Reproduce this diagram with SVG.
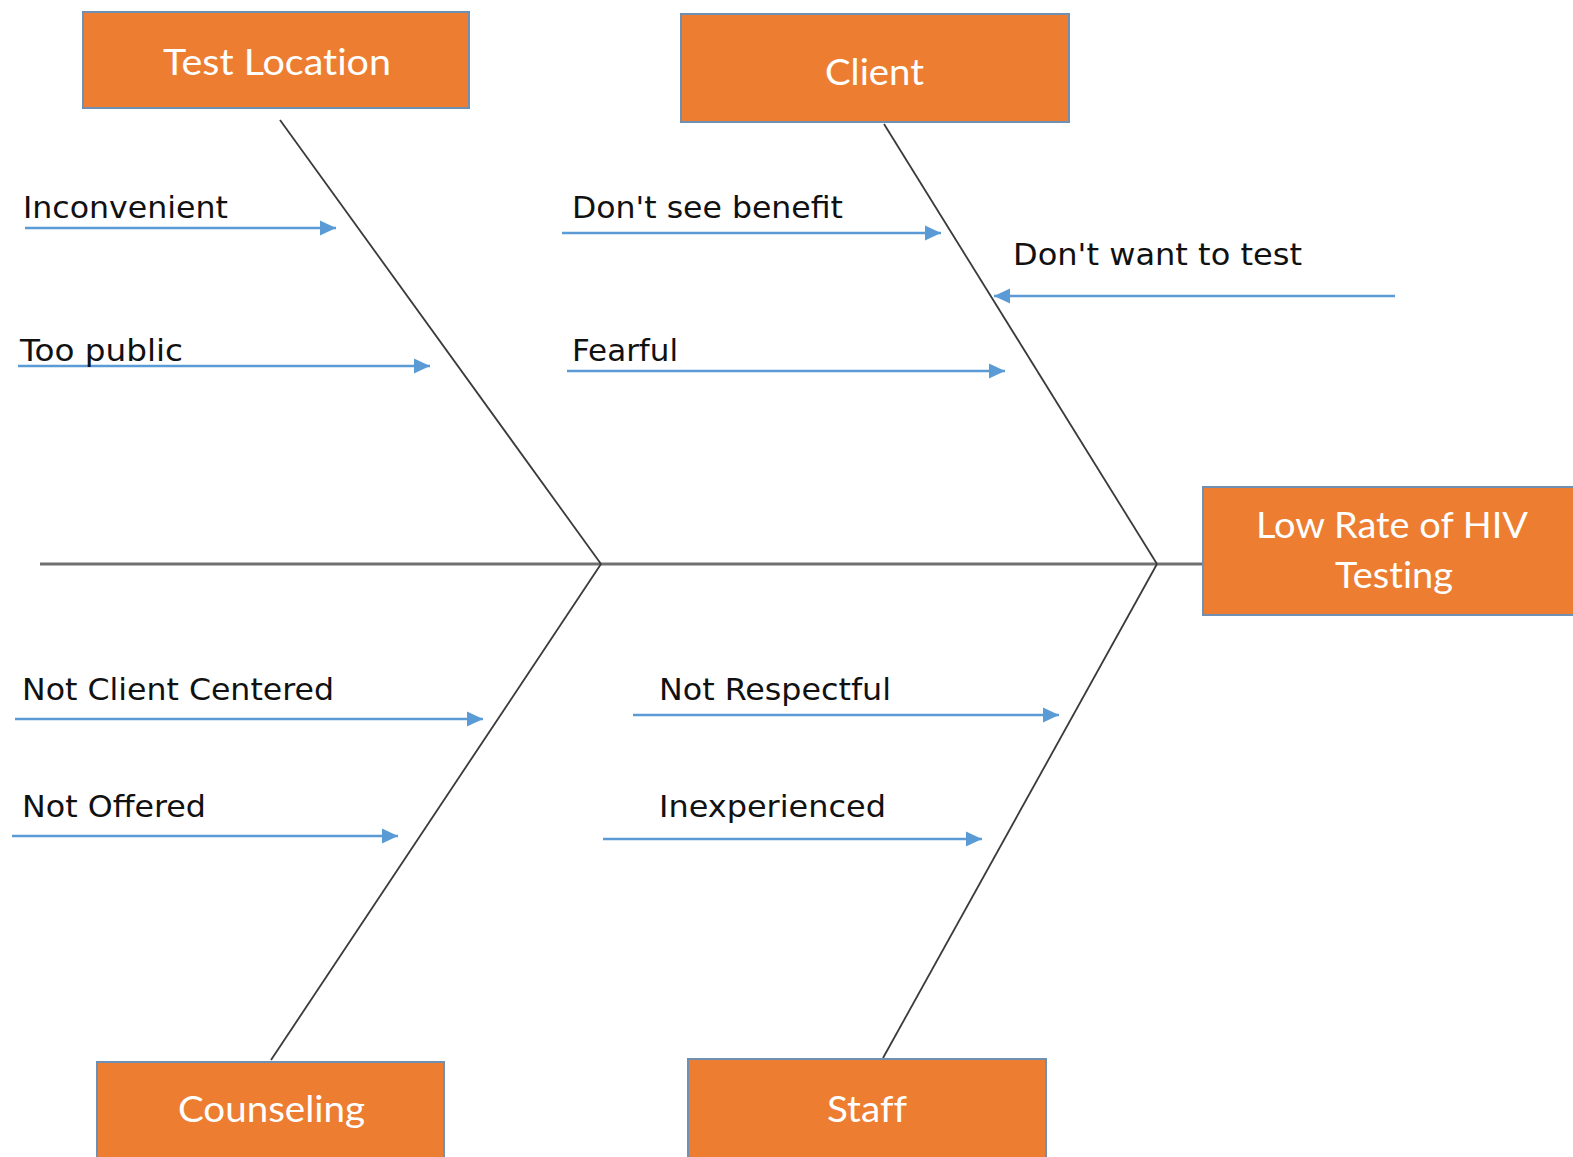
<svg xmlns="http://www.w3.org/2000/svg" width="1573" height="1157" viewBox="0 0 1573 1157">
  <style>
    .box { fill: #ED7D31; stroke: #6F8FB3; stroke-width: 2; }
    .boxtxt { font-family: Lato, "Open Sans", "Liberation Sans", sans-serif; font-size: 37px; fill: #FFFFFF; font-variant-ligatures: none; font-feature-settings: "liga" 0, "clig" 0, "dlig" 0; }
    .lbl { font-family: "DejaVu Sans", Verdana, sans-serif; font-size: 30px; fill: #111111; }
    .bone { stroke: #3A3A3A; stroke-width: 1.8; fill: none; }
    .spine { stroke: #707070; stroke-width: 3; fill: none; }
    .cause { stroke: #5B9BD5; stroke-width: 2.5; fill: none; marker-end: url(#tip); }
  </style>
  <defs>
    <marker id="tip" markerUnits="userSpaceOnUse" markerWidth="18" markerHeight="18" refX="16" refY="9" orient="auto">
      <path d="M0,1.5 L16,9 L0,16.5 Z" fill="#5B9BD5"/>
    </marker>
  </defs>

  <rect width="1573" height="1157" fill="#FFFFFF"/>

  <!-- fishbone skeleton and cause arrows -->
  <g id="connectors">
    <line class="spine" x1="40" y1="564" x2="1203" y2="564"/>
    <line class="bone" x1="280" y1="120" x2="601" y2="564"/>
    <line class="bone" x1="884" y1="124" x2="1157" y2="564"/>
    <line class="bone" x1="271" y1="1060" x2="601" y2="564"/>
    <line class="bone" x1="883" y1="1058" x2="1157" y2="564"/>

    <line class="cause" x1="25" y1="228" x2="336" y2="228"/>
    <line class="cause" x1="18" y1="366" x2="430" y2="366"/>
    <line class="cause" x1="562" y1="233" x2="941" y2="233"/>
    <line class="cause" x1="1395" y1="296" x2="994" y2="296"/>
    <line class="cause" x1="567" y1="371" x2="1005" y2="371"/>
    <line class="cause" x1="15" y1="719" x2="483" y2="719"/>
    <line class="cause" x1="633" y1="715" x2="1059" y2="715"/>
    <line class="cause" x1="12" y1="836" x2="398" y2="836"/>
    <line class="cause" x1="603" y1="839" x2="982" y2="839"/>
  </g>

  <!-- cause labels -->
  <g id="labels">
    <text class="lbl" x="23" y="218" textLength="205" lengthAdjust="spacingAndGlyphs">Inconvenient</text>
    <text class="lbl" x="20" y="361" textLength="163" lengthAdjust="spacingAndGlyphs">Too public</text>
    <text class="lbl" x="572" y="218" textLength="271" lengthAdjust="spacingAndGlyphs">Don't see benefit</text>
    <text class="lbl" x="1013" y="265" textLength="289" lengthAdjust="spacingAndGlyphs">Don't want to test</text>
    <text class="lbl" x="572" y="361" textLength="106" lengthAdjust="spacingAndGlyphs">Fearful</text>
    <text class="lbl" x="22" y="700" textLength="312" lengthAdjust="spacingAndGlyphs">Not Client Centered</text>
    <text class="lbl" x="659" y="700" textLength="232" lengthAdjust="spacingAndGlyphs">Not Respectful</text>
    <text class="lbl" x="22" y="817" textLength="184" lengthAdjust="spacingAndGlyphs">Not Offered</text>
    <text class="lbl" x="659" y="817" textLength="227" lengthAdjust="spacingAndGlyphs">Inexperienced</text>
  </g>

  <!-- category boxes -->
  <g id="test-location">
    <rect class="box" x="83" y="12" width="386" height="96"/>
    <text class="boxtxt" x="163" y="75" textLength="228" lengthAdjust="spacingAndGlyphs">Test Location</text>
  </g>
  <g id="client">
    <rect class="box" x="681" y="14" width="388" height="108"/>
    <text class="boxtxt" x="825" y="85" textLength="99" lengthAdjust="spacingAndGlyphs">Client</text>
  </g>
  <g id="counseling">
    <rect class="box" x="97" y="1062" width="347" height="110"/>
    <text class="boxtxt" x="178" y="1122" textLength="187" lengthAdjust="spacingAndGlyphs">Counseling</text>
  </g>
  <g id="staff">
    <rect class="box" x="688" y="1059" width="358" height="110"/>
    <text class="boxtxt" x="827" y="1122" textLength="80" lengthAdjust="spacingAndGlyphs">Staff</text>
  </g>
  <g id="effect">
    <rect class="box" x="1203" y="487" width="390" height="128"/>
    <text class="boxtxt" x="1256" y="538" textLength="272" lengthAdjust="spacingAndGlyphs">Low Rate of HIV</text>
    <text class="boxtxt" x="1335" y="588" textLength="118" lengthAdjust="spacingAndGlyphs">Testing</text>
  </g>
</svg>
